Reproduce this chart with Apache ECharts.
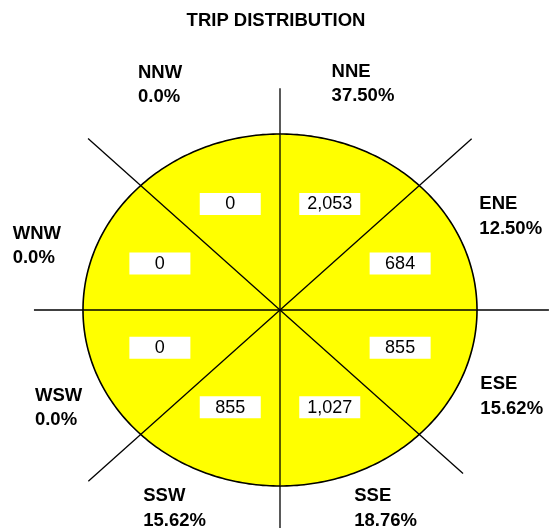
<!DOCTYPE html>
<html>
<head>
<meta charset="utf-8">
<script src="https://cdn.jsdelivr.net/npm/echarts@6/dist/echarts.min.js"></script>
<style>
  html, body { margin: 0; padding: 0; background: #fff; }
  #chart { width: 552px; height: 532px; }
</style>
</head>
<body>
<div id="chart"></div>
<script>
// Compass sectors, clockwise from north
const directions = ['NNE', 'ENE', 'ESE', 'SSE', 'SSW', 'WSW', 'WNW', 'NNW'];
const trips = [2053, 684, 855, 1027, 855, 0, 0, 0];
const shares = [37.50, 12.50, 15.62, 18.76, 15.62, 0.0, 0.0, 0.0];
const chartTitle = 'TRIP DISTRIBUTION';

// Drawing setup (radius units: 1 = ellipse edge)
const PX_X = 197, PX_Y = 176;           // pixels per radius unit
const CX = 280, CY = 310;               // compass centre in pixels
const W = 552, H = 532;
const FONT = '"Liberation Sans", Arial, Helvetica, sans-serif';

// How far each boundary ray reaches (N, NE, E, SE, S, SW, W, NW)
const rayReach = [1.26, 1.376, 1.365, 1.314, 1.239, 1.376, 1.249, 1.378];
// Where each direction caption sits: [left edge, middle of text block]
const calloutSpot = [
  [0.262, 1.284], [1.012, 0.532], [1.017, -0.490], [0.377, -1.127],
  [-0.694, -1.127], [-1.244, -0.557], [-1.357, 0.364], [-0.721, 1.278]
];
// Value boxes sit inside each sector at this fraction of the radius
const boxReach = [0.66, 0.625];
const boxLift = 0.025;

const toRad = d => d * Math.PI / 180;
// compass bearing -> point in radius units
const unit = (bearing, rx, ry) => [rx * Math.sin(toRad(bearing)), (ry === undefined ? rx : ry) * Math.cos(toRad(bearing))];
const fmtShare = v => v === 0 ? '0.0%' : v.toFixed(2) + '%';

const chart = echarts.init(document.getElementById('chart'), null, { renderer: 'canvas' });

chart.setOption({
  backgroundColor: '#ffffff',
  animation: false,
  title: {
    text: chartTitle,
    left: 'center',
    top: 6,
    textStyle: { fontFamily: FONT, fontWeight: 'bold', fontSize: 18.5, color: '#000', lineHeight: 20 }
  },
  grid: { left: 0, right: 0, top: 0, bottom: 0, containLabel: false },
  xAxis: { type: 'value', min: -CX / PX_X, max: (W - CX) / PX_X, show: false },
  yAxis: { type: 'value', min: -(H - CY) / PX_Y, max: CY / PX_Y, show: false },
  series: [
    {
      // yellow sectors with their outer arc
      type: 'custom',
      clip: false,
      data: directions.map((d, i) => [i, trips[i]]),
      renderItem: (params, api) => {
        const i = api.value(0);
        const from = 45 * i, to = 45 * (i + 1);
        const arc = [];
        for (let s = 0; s <= 45; s++) {
          arc.push(api.coord(unit(from + (to - from) * s / 45, 1)));
        }
        const c = api.coord([0, 0]);
        return {
          type: 'group',
          children: [
            { type: 'polygon', shape: { points: [c].concat(arc) }, style: { fill: '#ffff00', stroke: '#ffff00', lineWidth: 0.6 } },
            { type: 'polyline', shape: { points: arc }, style: { fill: null, stroke: '#000', lineWidth: 1.6 } }
          ]
        };
      }
    },
    {
      // boundary rays between the sectors
      type: 'custom',
      clip: false,
      data: rayReach.map((r, k) => [k * 45, r]),
      renderItem: (params, api) => {
        const c = api.coord([0, 0]);
        const e = api.coord(unit(api.value(0), api.value(1)));
        return {
          type: 'line',
          shape: { x1: c[0], y1: c[1], x2: e[0], y2: e[1] },
          style: { stroke: '#000', lineWidth: 1.3 }
        };
      }
    },
    {
      // trip counts in white boxes
      type: 'custom',
      clip: false,
      data: directions.map((d, i) => [i, trips[i]]),
      renderItem: (params, api) => {
        const i = api.value(0);
        const q = unit(45 * i + 22.5, boxReach[0], boxReach[1]);
        const p = api.coord([q[0], q[1] + boxLift]);
        return {
          type: 'group',
          children: [
            { type: 'rect', shape: { x: p[0] - 30.5, y: p[1] - 11, width: 61, height: 22 }, style: { fill: '#fff' } },
            { type: 'text', x: p[0], y: p[1] + 0.5, style: {
              text: api.value(1).toLocaleString('en-US'),
              font: '18px ' + FONT, fill: '#000', align: 'center', verticalAlign: 'middle' } }
          ]
        };
      }
    },
    {
      // direction captions with percentage share
      type: 'custom',
      clip: false,
      data: directions.map((d, i) => [i, shares[i]]),
      renderItem: (params, api) => {
        const i = api.value(0);
        const p = api.coord(calloutSpot[i]);
        return {
          type: 'text', x: p[0], y: p[1],
          style: {
            text: directions[i] + '\n' + fmtShare(api.value(1)),
            font: 'bold 18.5px ' + FONT, fill: '#000',
            align: 'left', verticalAlign: 'middle', lineHeight: 24.5
          }
        };
      }
    }
  ]
});
</script>
</body>
</html>
